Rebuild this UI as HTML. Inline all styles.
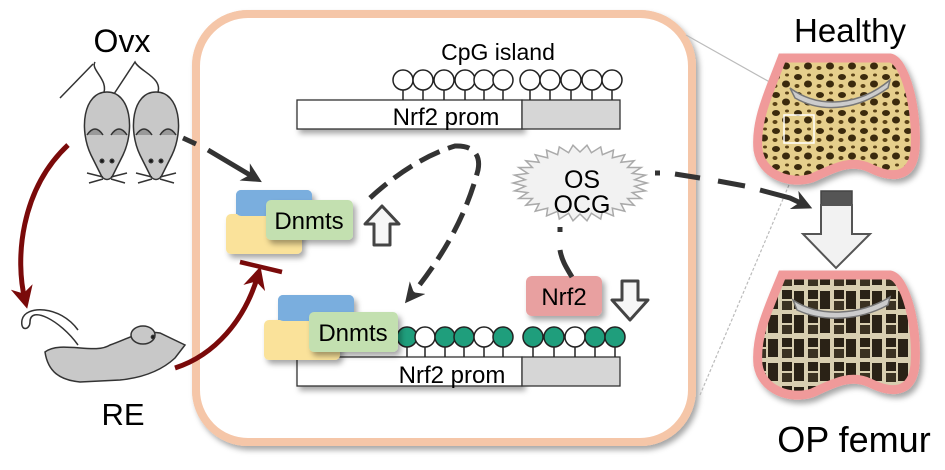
<!DOCTYPE html>
<html><head><meta charset="utf-8"><style>
html,body{margin:0;padding:0;background:#fff;}
svg{display:block;font-family:"Liberation Sans",Arial,sans-serif;}
</style></head><body>
<svg width="945" height="470" viewBox="0 0 945 470" xmlns="http://www.w3.org/2000/svg">
<defs>
<filter id="sh" x="-20%" y="-20%" width="150%" height="160%"><feDropShadow dx="3" dy="4" stdDeviation="3" flood-color="#000" flood-opacity="0.35"/></filter>
<pattern id="bone" width="22" height="18" patternUnits="userSpaceOnUse">
<rect width="22" height="18" fill="#e6cf8c"/>
<ellipse cx="6" cy="5" rx="4" ry="3" fill="#3a2a10"/><ellipse cx="16" cy="12" rx="4" ry="3.5" fill="#3a2a10"/><ellipse cx="17" cy="3" rx="2" ry="1.5" fill="#5a4218"/><ellipse cx="5" cy="14" rx="2.5" ry="2" fill="#5a4218"/>
</pattern>
<pattern id="bone2" width="26" height="24" patternUnits="userSpaceOnUse">
<rect width="26" height="24" fill="#d8ceb0"/>
<rect x="2" y="2" width="10" height="9" fill="#2a2214"/><rect x="14" y="3" width="10" height="18" fill="#2a2214"/><rect x="2" y="13" width="10" height="9" fill="#3a3020"/>
</pattern>
<marker id="ah" viewBox="0 0 10 10" refX="6" refY="5" markerWidth="4" markerHeight="4" orient="auto"><path d="M0,0 L10,5 L0,10 L3,5Z" fill="#333"/></marker>
<marker id="ahr" viewBox="0 0 10 10" refX="6" refY="5" markerWidth="4.5" markerHeight="4.5" orient="auto"><path d="M0,0 L10,5 L0,10 L3,5Z" fill="#7a0a0a"/></marker>
</defs>

<!-- frame -->
<rect x="196" y="14" width="496" height="428" rx="52" fill="#fff" stroke="#f5c6a8" stroke-width="8" filter="url(#sh)"/>
<rect x="196" y="14" width="496" height="428" rx="52" fill="#fff" stroke="#f5c6a8" stroke-width="8"/>

<!-- zoom lines -->
<line x1="686" y1="35" x2="775" y2="85" stroke="#bbb" stroke-width="1.2"/>
<line x1="700" y1="395" x2="808" y2="140" stroke="#bbb" stroke-width="1.2" stroke-dasharray="3,2"/>

<text x="122" y="52" font-size="32" text-anchor="middle">Ovx</text>
<text x="123" y="425" font-size="31" text-anchor="middle">RE</text>
<text x="850" y="42" font-size="33" text-anchor="middle">Healthy</text>
<text x="854" y="452" font-size="36" text-anchor="middle">OP femur</text>

<!-- mice -->
<g stroke="#333" stroke-width="1.5" fill="#c8c8c8">
<path d="M103,95 C110,80 90,70 95,62 M93,64 L60,98" fill="none"/>
<path d="M157,95 C165,78 140,72 135,62 L110,100" fill="none"/>
<g transform="translate(107,125)"><path d="M0,-33 C24,-33 28,5 16,30 L5,52 Q0,57 -5,52 L-16,30 C-28,5 -24,-33 0,-33Z"/><path d="M-20,10 Q-12,-2 -4,10 M4,10 Q12,-2 20,10" fill="#9a9a9a"/><circle cx="-5" cy="36" r="1.8" fill="#111"/><circle cx="5" cy="36" r="1.8" fill="#111"/><path d="M-4,52 L-20,48 M-4,54 L-18,58 M4,52 L20,48 M4,54 L18,58" fill="none"/></g>
<g transform="translate(156,125)"><path d="M0,-33 C24,-33 28,5 16,30 L5,52 Q0,57 -5,52 L-16,30 C-28,5 -24,-33 0,-33Z"/><path d="M-20,10 Q-12,-2 -4,10 M4,10 Q12,-2 20,10" fill="#9a9a9a"/><circle cx="-5" cy="36" r="1.8" fill="#111"/><circle cx="5" cy="36" r="1.8" fill="#111"/><path d="M-4,52 L-20,48 M-4,54 L-18,58 M4,52 L20,48 M4,54 L18,58" fill="none"/></g>
<!-- running mouse -->
<path d="M45,352 C60,340 95,355 110,345 C130,338 140,330 160,333 L185,345 L175,358 C160,372 140,378 120,380 L80,382 C60,380 48,372 45,352Z"/>
<ellipse cx="143" cy="335" rx="12" ry="9"/>
<path d="M78,345 C60,320 30,305 30,322 C30,330 20,332 22,320 C25,305 60,305 78,330" fill="none"/>
<circle cx="153" cy="337" r="1.6" fill="#111"/>
</g>

<!-- red arrows -->
<path d="M68,145 C20,190 15,260 25,300" fill="none" stroke="#7a0a0a" stroke-width="5" marker-end="url(#ahr)"/>
<path d="M175,368 C215,355 245,320 258,275" fill="none" stroke="#7a0a0a" stroke-width="5" marker-end="url(#ahr)"/>
<line x1="240" y1="262" x2="282" y2="272" stroke="#7a0a0a" stroke-width="4.5"/>

<!-- dark arrow from mice -->
<path d="M183,138 L196,144 M208,150 L255,178" fill="none" stroke="#333" stroke-width="5" marker-end="url(#ah)"/>

<!-- top promoter -->
<g stroke="#333" stroke-width="1.3">
<rect x="297" y="100" width="225" height="29" fill="#fff" filter="url(#sh)"/>
<rect x="522" y="100" width="98" height="29" fill="#d6d6d6"/>
</g>
<text x="446" y="125" font-size="24" text-anchor="middle">Nrf2 prom</text>
<text x="498" y="60" font-size="23" text-anchor="middle">CpG island</text>
<g stroke="#222" stroke-width="1.5" fill="#fff">
<line x1="403" y1="90" x2="403" y2="100"/><circle cx="403" cy="80" r="10"/>
<line x1="423" y1="90" x2="423" y2="100"/><circle cx="423" cy="80" r="10"/>
<line x1="444" y1="90" x2="444" y2="100"/><circle cx="444" cy="80" r="10"/>
<line x1="465" y1="90" x2="465" y2="100"/><circle cx="465" cy="80" r="10"/>
<line x1="484" y1="90" x2="484" y2="100"/><circle cx="484" cy="80" r="10"/>
<line x1="503" y1="90" x2="503" y2="100"/><circle cx="503" cy="80" r="10"/>
<line x1="530" y1="90" x2="530" y2="100"/><circle cx="530" cy="80" r="10"/>
<line x1="550" y1="90" x2="550" y2="100"/><circle cx="550" cy="80" r="10"/>
<line x1="571" y1="90" x2="571" y2="100"/><circle cx="571" cy="80" r="10"/>
<line x1="592" y1="90" x2="592" y2="100"/><circle cx="592" cy="80" r="10"/>
<line x1="612" y1="90" x2="612" y2="100"/><circle cx="612" cy="80" r="10"/>
</g>

<!-- bottom promoter -->
<g stroke="#333" stroke-width="1.3">
<rect x="297" y="357" width="225" height="29" fill="#fff" filter="url(#sh)"/>
<rect x="522" y="357" width="98" height="29" fill="#d6d6d6"/>
</g>
<text x="452" y="383" font-size="24" text-anchor="middle">Nrf2 prom</text>
<g stroke="#222" stroke-width="1.5">
<g fill="#1f9e7c"><line x1="407" y1="347" x2="407" y2="357"/><circle cx="407" cy="337" r="10"/></g>
<g fill="#fff"><line x1="425" y1="347" x2="425" y2="357"/><circle cx="425" cy="337" r="10"/></g>
<g fill="#1f9e7c"><line x1="445" y1="347" x2="445" y2="357"/><circle cx="445" cy="337" r="10"/></g>
<g fill="#1f9e7c"><line x1="464" y1="347" x2="464" y2="357"/><circle cx="464" cy="337" r="10"/></g>
<g fill="#fff"><line x1="484" y1="347" x2="484" y2="357"/><circle cx="484" cy="337" r="10"/></g>
<g fill="#1f9e7c"><line x1="503" y1="347" x2="503" y2="357"/><circle cx="503" cy="337" r="10"/></g>
<g fill="#1f9e7c"><line x1="533" y1="347" x2="533" y2="357"/><circle cx="533" cy="337" r="10"/></g>
<g fill="#1f9e7c"><line x1="554" y1="347" x2="554" y2="357"/><circle cx="554" cy="337" r="10"/></g>
<g fill="#fff"><line x1="575" y1="347" x2="575" y2="357"/><circle cx="575" cy="337" r="10"/></g>
<g fill="#1f9e7c"><line x1="595" y1="347" x2="595" y2="357"/><circle cx="595" cy="337" r="10"/></g>
<g fill="#1f9e7c"><line x1="615" y1="347" x2="615" y2="357"/><circle cx="615" cy="337" r="10"/></g>
</g>

<!-- Dnmts upper -->
<rect x="236" y="190" width="76" height="36" rx="5" fill="#7aaede" filter="url(#sh)"/>
<rect x="226" y="214" width="76" height="40" rx="5" fill="#fae29a" filter="url(#sh)"/>
<rect x="236" y="190" width="76" height="26" rx="5" fill="#7aaede"/>
<rect x="266" y="200" width="87" height="40" rx="5" fill="#c3e0b0" filter="url(#sh)"/>
<text x="309" y="229" font-size="24" text-anchor="middle">Dnmts</text>

<!-- Dnmts lower -->
<rect x="278" y="295" width="76" height="40" rx="5" fill="#7aaede" filter="url(#sh)"/>
<rect x="264" y="320" width="76" height="40" rx="5" fill="#fae29a" filter="url(#sh)"/>
<rect x="278" y="295" width="76" height="26" rx="5" fill="#7aaede"/>
<rect x="309" y="312" width="89" height="40" rx="5" fill="#c3e0b0" filter="url(#sh)"/>
<text x="353" y="341" font-size="24" text-anchor="middle">Dnmts</text>

<!-- up hollow arrow -->
<path d="M382,206 L399,224 L390,224 L390,245 L374,245 L374,224 L365,224Z" fill="#f6f6f6" stroke="#444" stroke-width="3" stroke-linejoin="round"/>
<!-- down hollow arrow -->
<path d="M622,281 L638,281 L638,300 L648,300 L630,320 L612,300 L622,300Z" fill="#f6f6f6" stroke="#444" stroke-width="3" stroke-linejoin="round"/>

<!-- Nrf2 -->
<rect x="526" y="276" width="76" height="40" rx="6" fill="#e8a0a0" filter="url(#sh)"/>
<text x="564" y="305" font-size="24" text-anchor="middle">Nrf2</text>

<!-- dashed loop -->
<path d="M370,198 C395,175 425,155 455,146 C478,145 480,160 478,170 C465,220 440,260 410,297" fill="none" stroke="#333" stroke-width="5" stroke-dasharray="22,9" marker-end="url(#ah)"/>

<!-- starburst -->
<polygon fill="#f2f2f2" stroke="#aaa" stroke-width="1.5" points="647,183 634.7,186.3 645.5,190.9 632.3,192.6 641.2,198.5 627.6,198.5 634.2,205.3 620.9,203.7 624.8,211.2 612.3,208.1 613.5,215.9 602.4,211.3 600.7,219.1 591.4,213.3 587,220.8 580,214 573,220.8 568.6,213.3 559.3,219.1 557.6,211.3 546.5,215.9 547.7,208.1 535.2,211.2 539.1,203.7 525.8,205.3 532.4,198.5 518.8,198.5 527.7,192.6 514.5,190.9 525.3,186.3 513,183 525.3,179.7 514.5,175.1 527.7,173.4 518.8,167.5 532.4,167.5 525.8,160.7 539.1,162.3 535.2,154.8 547.7,157.9 546.5,150.1 557.6,154.7 559.3,146.9 568.6,152.7 573,145.2 580,152 587,145.2 591.4,152.7 600.7,146.9 602.4,154.7 613.5,150.1 612.3,157.9 624.8,154.8 620.9,162.3 634.2,160.7 627.6,167.5 641.2,167.5 632.3,173.4 645.5,175.1 634.7,179.7"/>
<text x="582" y="188" font-size="25" text-anchor="middle">OS</text>
<text x="582" y="213" font-size="25" text-anchor="middle">OCG</text>

<!-- dash-dot from starburst -->
<path d="M560,227 L560,232 M560,250 C562,262 568,270 572,277" fill="none" stroke="#333" stroke-width="5"/>
<path d="M655,173 L660,173 M675,174 L700,178 M718,181 L745,186 M760,190 L790,198 L805,205" fill="none" stroke="#333" stroke-width="5" marker-end="url(#ah)"/>

<!-- big arrow -->
<rect x="821" y="191" width="31" height="14" fill="#555" stroke="#444" stroke-width="1.5"/>
<path d="M821,205 L852,205 L852,234 L870,234 L836,268 L803,234 L821,234Z" fill="#f2f2f2" stroke="#555" stroke-width="2"/>

<!-- healthy femur -->
<path d="M782,58 L890,58 C905,60 918,110 915,150 C912,180 890,178 870,168 C850,158 830,170 812,178 C790,185 762,175 758,150 C755,120 770,90 782,58Z" fill="url(#bone)" stroke="#f09a9a" stroke-width="9" filter="url(#sh)"/>
<path d="M790,88 C820,110 860,105 890,80 L888,88 C860,108 825,115 795,98Z" fill="#ccc" stroke="#777" stroke-width="1.5"/>
<rect x="784" y="115" width="30" height="28" fill="none" stroke="#fff" stroke-width="1.5"/>

<!-- OP femur -->
<path d="M782,275 L890,275 C905,277 918,325 915,365 C912,395 890,393 870,383 C850,373 830,385 812,393 C790,400 762,390 758,365 C755,335 770,305 782,275Z" fill="url(#bone2)" stroke="#f09a9a" stroke-width="9" filter="url(#sh)"/>
<path d="M793,300 C820,318 860,315 890,297 L888,305 C860,320 825,323 797,310Z" fill="#ccc" stroke="#777" stroke-width="1.5"/>
</svg>
</body></html>
